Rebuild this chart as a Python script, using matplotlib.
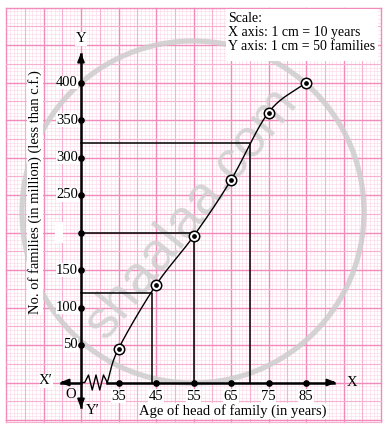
import numpy as np
import matplotlib
matplotlib.use("Agg")
import matplotlib.pyplot as plt
from matplotlib.patches import Ellipse, Rectangle

# ---------------- data ----------------
ages = [35, 45, 55, 65, 75, 85]                 # upper class limits
cum_freq = [45, 130, 195, 270, 360, 400]        # less-than cumulative frequency
curve_start = (32, 0)                           # where the ogive meets the x axis
x_ticks = [35, 45, 55, 65, 75, 85]
x_tick_labels = ["35", "45", "55", "65", "75", "85"]
y_ticks = [50, 100, 150, 200, 250, 300, 350, 400]
y_tick_labels = ["50", "100", "150", "", "250", "300", "350", "400"]
partition_cf = [120, 200, 320]
partition_age = [44, 55, 70]

SERIF = ["Liberation Serif", "DejaVu Serif"]

# ---------------- figure / coordinate system ----------------
W, H = 388, 429
fig = plt.figure(figsize=(W / 100, H / 100), dpi=100)
ax = fig.add_axes([0, 0, 1, 1])
PXX, PXY = 3.75, 0.75          # pixels per data unit (x in years, y in families)
OX, OY = 81, 382.5             # pixel position of the origin (x=25, y=0)
def dx(px): return 25 + (px - OX) / PXX
def dy(py): return (OY - py) / PXY
ax.set_xlim(dx(0), dx(W))
ax.set_ylim(dy(H), dy(0))
ax.axis("off")

# ---------------- graph paper ----------------
minor_c, med_c, major_c = "#fcd9e8", "#f7b0cf", "#f28abb"
xa, xb = 5, 105
ya, yb = dy(421.8), 500
for v in range(xa, xb + 1):
    if v % 10 == 5:
        c, lw = major_c, 1.0
    elif v % 5 == 0:
        c, lw = med_c, 0.8
    else:
        c, lw = minor_c, 0.45
    ax.plot([v, v], [ya, yb], color=c, lw=lw, zorder=0 if lw < 0.6 else 0.5)
for v in range(-50, 501, 5):
    if v % 50 == 0:
        c, lw = major_c, 1.0
    elif v % 25 == 0:
        c, lw = med_c, 0.8
    else:
        c, lw = minor_c, 0.45
    ax.plot([xa, xb], [v, v], color=c, lw=lw, zorder=0 if lw < 0.6 else 0.5)
ax.plot([xa, xb], [ya, ya], color=med_c, lw=0.8, zorder=0.5)

# ---------------- watermark ----------------
ax.add_patch(Ellipse((dx(193), dy(212)), 2 * 171 / PXX, 2 * 171 / PXY,
                     fill=False, ec="#cdcdcd", lw=3.8, alpha=0.85, zorder=1))
ax.text(dx(191), dy(213), "shaalaa.com", rotation=51, fontsize=39,
        family=["Liberation Sans", "DejaVu Sans"], color="#cfcfcf", alpha=0.85,
        ha="center", va="center", zorder=1)

# ---------------- white boxes ----------------
ax.add_patch(Rectangle((dx(226), dy(61)), (378 - 226) / PXX, (61 - 9) / PXY,
                       fc="white", ec="none", zorder=2))
ax.add_patch(Rectangle((dx(55), dy(243)), (63 - 55) / PXX, (243 - 222) / PXY,
                       fc="white", ec="none", zorder=2))

# ---------------- axes with arrows ----------------
k = "black"
ax.plot([25, 25], [dy(407), dy(54)], color=k, lw=1.8, zorder=3)
ax.annotate("", xy=(25, dy(50)), xytext=(25, dy(60)),
            arrowprops=dict(arrowstyle="-|>,head_length=0.5,head_width=0.2", color=k, lw=1.5), zorder=3)
ax.annotate("", xy=(25, dy(411)), xytext=(25, dy(401)),
            arrowprops=dict(arrowstyle="-|>,head_length=0.5,head_width=0.2", color=k, lw=1.5), zorder=3)
# x axis with break (zigzag)
zz_x = [25, 26.0, 27.0, 28.0, 29.0, 30.0, 31.0, 32.0]
zz_y = [0, 0, 10, -10, 10, -10, 10, 0]
ax.plot([dx(61), 25], [0, 0], color=k, lw=1.8, zorder=3)
ax.plot(zz_x, zz_y, color=k, lw=1.0, zorder=3)
ax.plot([32, dx(334)], [0, 0], color=k, lw=1.8, zorder=3)
ax.annotate("", xy=(dx(57), 0), xytext=(dx(67), 0),
            arrowprops=dict(arrowstyle="-|>,head_length=0.5,head_width=0.2", color=k, lw=1.5), zorder=3)
ax.annotate("", xy=(dx(339), 0), xytext=(dx(329), 0),
            arrowprops=dict(arrowstyle="-|>,head_length=0.5,head_width=0.2", color=k, lw=1.5), zorder=3)

# tick dots
ax.plot(x_ticks, [0] * len(x_ticks), "o", color=k, ms=3.8, zorder=4)
ax.plot([25] * len(y_ticks), y_ticks, "o", color=k, ms=3.8, zorder=4)

fs = 10.5
for xv, lab in zip(x_ticks, x_tick_labels):
    ax.text(xv, dy(396), lab, ha="center", va="center", fontsize=fs, family=SERIF, zorder=5,
            bbox=dict(fc="white", ec="none", pad=0.3))
for yv, lab in zip(y_ticks, y_tick_labels):
    if lab:
        ax.text(dx(78), yv, lab, ha="right", va="center", fontsize=fs, family=SERIF, zorder=5,
                bbox=dict(fc="white", ec="none", pad=0.3))

ax.text(25, dy(39), "Y", ha="center", va="center", fontsize=fs, family=SERIF, zorder=5,
        bbox=dict(fc="white", ec="none", pad=0.3))
ax.text(dx(352), 0, "X", ha="center", va="center", fontsize=fs, family=SERIF, zorder=5)
ax.text(dx(46), dy(381), "X\u2032", ha="center", va="center", fontsize=fs, family=SERIF, zorder=5,
        bbox=dict(fc="white", ec="none", pad=0.3))
ax.text(dx(71), dy(394), "O", ha="center", va="center", fontsize=fs, family=SERIF, zorder=5)
ax.text(dx(93), dy(410), "Y\u2032", ha="center", va="center", fontsize=fs, family=SERIF, zorder=5)

ax.text(dx(233), dy(411), "Age of head of family (in years)", ha="center", va="center",
        fontsize=fs, family=SERIF, zorder=5, bbox=dict(fc="white", ec="none", pad=0.5))
ax.text(dx(35), dy(192), "No. of families (in million) (less than c.f.)", rotation=90,
        ha="center", va="center", fontsize=fs, family=SERIF, zorder=5,
        bbox=dict(fc="white", ec="none", pad=0.5))

ax.text(dx(228), dy(12), "Scale:\nX axis: 1 cm = 10 years\nY axis: 1 cm = 50 families",
        ha="left", va="top", fontsize=10, family=SERIF, zorder=5, linespacing=1.1)

# ---------------- partition lines ----------------
for cfv, agev in zip(partition_cf, partition_age):
    ax.plot([25, agev, agev], [cfv, cfv, 0], color=k, lw=1.1, zorder=3)

# ---------------- ogive (smooth curve) ----------------
px = np.array([curve_start[0]] + ages, dtype=float)
py = np.array([curve_start[1]] + cum_freq, dtype=float)
P = np.column_stack([px, py])
n = len(P)
T = np.zeros_like(P)
T[1:-1] = (P[2:] - P[:-2]) / 2
T[0] = P[1] - P[0]
T[-1] = P[-1] - P[-2]
pts = []
for i in range(n - 1):
    t = np.linspace(0, 1, 30)[:, None]
    h00 = 2 * t**3 - 3 * t**2 + 1
    h10 = t**3 - 2 * t**2 + t
    h01 = -2 * t**3 + 3 * t**2
    h11 = t**3 - t**2
    seg = h00 * P[i] + h10 * T[i] + h01 * P[i + 1] + h11 * T[i + 1]
    pts.append(seg)
C = np.vstack(pts)
ax.plot(C[:, 0], C[:, 1], color=k, lw=1.0, zorder=3)

ax.plot(ages, cum_freq, "o", ms=7.5, mfc="white", mec=k, mew=1.1, zorder=4)
ax.plot(ages, cum_freq, "o", ms=2.4, color=k, zorder=4.5)

fig.savefig("out.png", dpi=100)
